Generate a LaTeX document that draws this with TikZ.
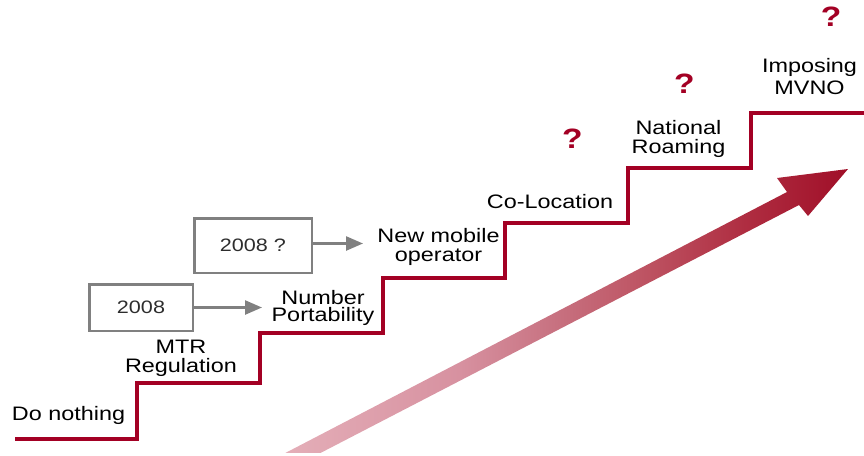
\documentclass[tikz,border=0pt]{standalone}
\usepackage{fontspec}
\newfontfamily\lab[FakeStretch=1.2]{Liberation Sans}
\usetikzlibrary{arrows.meta}

\definecolor{stair}{RGB}{163,0,36}
\definecolor{boxgray}{RGB}{128,128,128}
\definecolor{boxtext}{RGB}{45,45,45}
% gradient stops of the rising arrow, from tail to tip
\definecolor{grada}{RGB}{228,174,184}
\definecolor{gradb}{RGB}{215,145,160}
\definecolor{gradc}{RGB}{200,115,130}
\definecolor{gradd}{RGB}{190,85,100}
\definecolor{grade}{RGB}{175,45,65}
\definecolor{gradf}{RGB}{160,15,40}

% 25bp..75bp of the shading cover the bounding box of the shaded path
\pgfdeclarehorizontalshading{risefill}{100bp}{
  color(0bp)=(grada); color(28.6bp)=(grada); color(42.9bp)=(gradb);
  color(50.4bp)=(gradc); color(57.8bp)=(gradd); color(66.5bp)=(grade);
  color(75bp)=(gradf); color(100bp)=(gradf)}

\begin{document}
\begin{tikzpicture}[x=1pt,y=-1pt,
  stairtext/.style={font=\lab\fontsize{19.5}{18.5}\selectfont, inner sep=0pt, align=center, text=black},
  query/.style={font=\lab\bfseries\fontsize{28}{28}\selectfont, inner sep=0pt, text=stair},
  yearbox/.style={draw=boxgray, line width=2.5pt, rectangle, inner sep=0pt,
    font=\lab\fontsize{18}{18}\selectfont, text=boxtext},
  feed/.style={draw=boxgray, line width=2.5pt, -{Triangle[length=17pt,width=14pt]}},
  stairline/.style={draw=stair, line width=4pt, line join=miter}]

\useasboundingbox (0,0) rectangle (864,455);

% rising block arrow with a pink-to-crimson gradient, cut at the lower edge
\begin{scope}
  \clip (0,0) rectangle (864,452);
  \shade[shading=risefill]
    (848,169) -- (777,178) -- (787,192) -- (243,475) -- (278,475)
    -- (799,205) -- (808,216) -- cycle;
\end{scope}

% the staircase of regulatory measures
\draw[stairline] (15,438.7) -| (137,383.3) -| (260,333.3) -| (383,278.3)
  -| (505,222.7) -| (628,168.3) -| (751,113.3) -- (864,113.3);

% step captions
\node[stairtext, anchor=base]  (nothing) at (68.5,420.7) {Do nothing};
\node[stairtext, anchor=north] (mtr)     at (181,340)    {MTR\\Regulation};
\node[stairtext, anchor=north] (np)      at (323,290.5)  {Number\\[-2pt]Portability};
\node[stairtext, anchor=north] (nmo)     at (438.5,228.5){New mobile\\[0.5pt]operator};
\node[stairtext, anchor=base]  (coloc)   at (550,208.5)  {Co-Location};
\node[stairtext, anchor=north] (roam)    at (678.5,120)  {National\\[1pt]Roaming};
\node[stairtext, anchor=north] (mvno)    at (809.5,58)   {Imposing\\[4pt]MVNO};

% open questions on the upper steps
\node[query, anchor=base] (q1) at (572.5,148) {?};
\node[query, anchor=base] (q2) at (684.5,93)  {?};
\node[query, anchor=base] (q3) at (831,27)    {?};

% dates
\node[yearbox, minimum width=103.5, minimum height=46.5] (y1) at (141,307.5) {2008};
\node[yearbox, minimum width=117.5, minimum height=54.5] (y2) at (253,245.5) {2008 ?};

\coordinate (t1) at (262,307.5);
\coordinate (t2) at (363,243.5);
\draw[feed] (y1.east) -- (t1);
\draw[feed] (y2.east |- t2) -- (t2);

\end{tikzpicture}
\end{document}
